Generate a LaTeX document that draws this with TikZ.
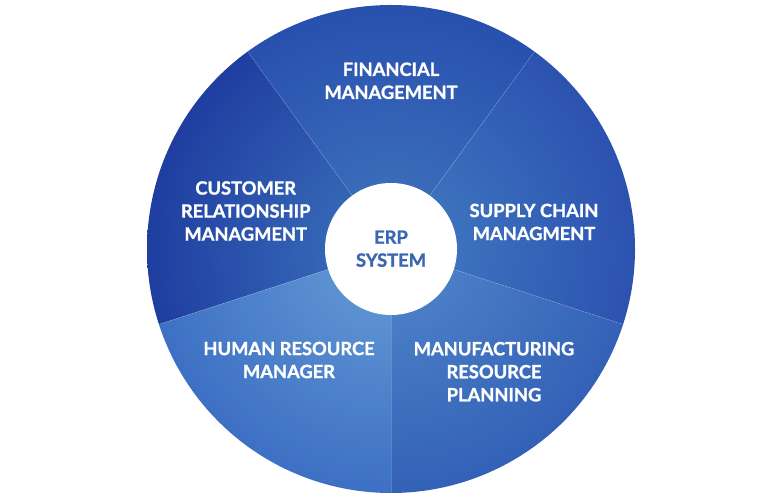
\documentclass[tikz,border=0pt]{standalone}
\usepackage{fontspec}
\newfontfamily\lato{Lato}[BoldFeatures={FakeBold=1.2}]
\definecolor{topIn}{HTML}{3A6CBA}\definecolor{topOut}{HTML}{2850AE}
\definecolor{lefIn}{HTML}{3566B6}\definecolor{lefOut}{HTML}{1F3EA0}
\definecolor{rigIn}{HTML}{3C72BE}\definecolor{rigOut}{HTML}{2C52B0}
\definecolor{brIn}{HTML}{4A7EC6}\definecolor{brOut}{HTML}{3361B7}
\definecolor{blIn}{HTML}{5C92D2}\definecolor{blOut}{HTML}{3D70C4}
\definecolor{erpBlue}{HTML}{3A66B2}
\pgfdeclareradialshading{segTop}{\pgfpointorigin}{color(0bp)=(topIn);color(6.5bp)=(topIn);color(25bp)=(topOut);color(50bp)=(topOut)}
\pgfdeclareradialshading{segLeft}{\pgfpointorigin}{color(0bp)=(lefIn);color(6.5bp)=(lefIn);color(25bp)=(lefOut);color(50bp)=(lefOut)}
\pgfdeclareradialshading{segRight}{\pgfpointorigin}{color(0bp)=(rigIn);color(6.5bp)=(rigIn);color(25bp)=(rigOut);color(50bp)=(rigOut)}
\pgfdeclareradialshading{segBR}{\pgfpointorigin}{color(0bp)=(brIn);color(6.5bp)=(brIn);color(25bp)=(brOut);color(50bp)=(brOut)}
\pgfdeclareradialshading{segBL}{\pgfpointorigin}{color(0bp)=(blIn);color(6.5bp)=(blIn);color(25bp)=(blOut);color(50bp)=(blOut)}
\tikzset{
  label text/.style={font=\lato\bfseries\fontsize{18.3}{23}\selectfont, text=white, align=center, inner sep=0pt},
  sep line/.style={draw=white, draw opacity=0.18, line width=0.6pt},
}
\newcommand{\segment}[3]{%
  \begin{scope}
    \clip (C) -- ++(#1:244) arc[start angle=#1, end angle=#2, radius=244] -- cycle;
    \shade[shading=#3] (C) circle[radius=244];
  \end{scope}}
\begin{document}
\begin{tikzpicture}[x=1pt,y=1pt]
\useasboundingbox (0,0) rectangle (783,500);
\coordinate (C) at (391,251);
\segment{54}{126}{segTop}
\segment{126}{198}{segLeft}
\segment{198}{270}{segBL}
\segment{270}{342}{segBR}
\segment{-18}{54}{segRight}
\foreach \a in {54,126,198,270,342}
  \draw[sep line] (C) -- ++(\a:243.5);
\node[circle, fill=white, minimum size=132pt, inner sep=0pt] (erp) at (C) {};
\node[label text, text=erpBlue] (erptext) at (391,251.3) {ERP\\SYSTEM};
\node[label text] (fin) at (391,419.2) {FINANCIAL\\MANAGEMENT};
\node[label text] (crm) at (245.7,289) {CUSTOMER\\RELATIONSHIP\\MANAGMENT};
\node[label text] (scm) at (534,278) {SUPPLY CHAIN\\MANAGMENT};
\node[label text] (hrm) at (289,140) {HUMAN RESOURCE\\MANAGER};
\node[label text] (mrp) at (494,128.3) {MANUFACTURING\\RESOURCE\\PLANNING};
\end{tikzpicture}
\end{document}
